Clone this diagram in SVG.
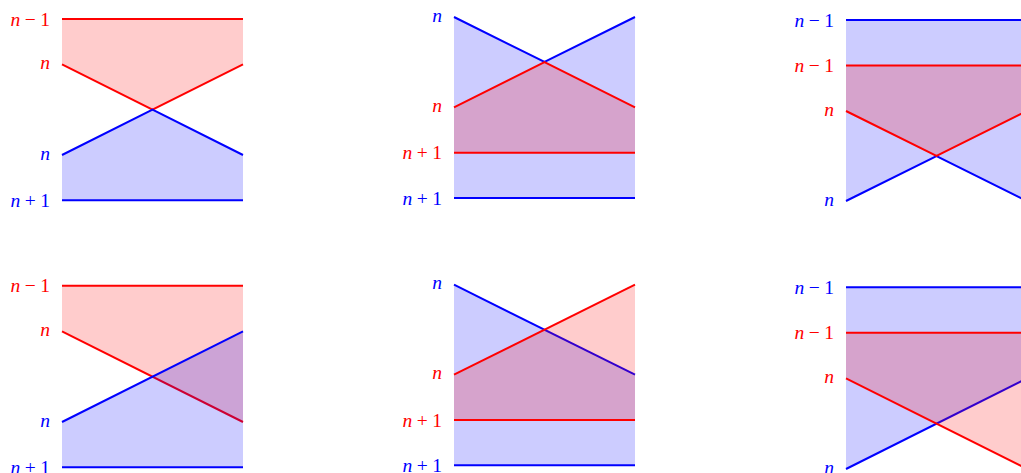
<svg xmlns="http://www.w3.org/2000/svg" width="1021" height="473" viewBox="0 0 1021 473">
<style>
.rf{fill:#ff0000;fill-opacity:0.2;stroke:none}
.bf{fill:#0000ff;fill-opacity:0.2;stroke:none}
.rl{fill:none;stroke:#ff0000;stroke-width:2}
.bl{fill:none;stroke:#0000ff;stroke-width:2}
text{font-family:"Liberation Serif","Times New Roman",serif;font-size:19.5px;text-anchor:end}
.rt{fill:#ff0000}
.bt{fill:#0000ff}
.i{font-style:italic}
</style>
<rect width="1021" height="473" fill="#ffffff"/>
<g id="panel1">
<polygon class="rf" points="62,19 243,19 243,64.3 152.5,109.7 62,64.3"/>
<polygon class="bf" points="62,155 152.5,109.7 243,155 243,200.3 62,200.3"/>
<line class="rl" x1="62" y1="19" x2="243" y2="19"/>
<polyline class="rl" points="62,64.3 152.5,109.7 243,64.3"/>
<polyline class="bl" points="62,155 152.5,109.7 243,155"/>
<line class="bl" x1="62" y1="200.3" x2="243" y2="200.3"/>
<text class="rt" x="50" y="25.5"><tspan class="i">n</tspan><tspan dx="4.5">−</tspan><tspan dx="4.5">1</tspan></text>
<text class="rt i" x="50" y="68.8">n</text>
<text class="bt i" x="50" y="159.5">n</text>
<text class="bt" x="50" y="206.8"><tspan class="i">n</tspan><tspan dx="4.5">+</tspan><tspan dx="4.5">1</tspan></text>
</g>
<g id="panel2">
<polygon class="bf" points="454,17 544.5,62 635,17 635,198 454,198"/>
<polyline class="bl" points="454,17 544.5,62 635,17"/>
<line class="bl" x1="454" y1="198" x2="635" y2="198"/>
<polygon class="rf" points="454,107.3 544.5,62 635,107.3 635,152.7 454,152.7"/>
<polyline class="rl" points="454,107.3 544.5,62 635,107.3"/>
<line class="rl" x1="454" y1="152.7" x2="635" y2="152.7"/>
<text class="bt i" x="442" y="21.5">n</text>
<text class="rt i" x="442" y="111.8">n</text>
<text class="rt" x="442" y="159.2"><tspan class="i">n</tspan><tspan dx="4.5">+</tspan><tspan dx="4.5">1</tspan></text>
<text class="bt" x="442" y="204.5"><tspan class="i">n</tspan><tspan dx="4.5">+</tspan><tspan dx="4.5">1</tspan></text>
</g>
<g id="panel3">
<polygon class="bf" points="846,20 1027,20 1027,201 936.5,156 846,201"/>
<line class="bl" x1="846" y1="20" x2="1027" y2="20"/>
<polyline class="bl" points="846,201 936.5,156 1027,201"/>
<polygon class="rf" points="846,65.5 1027,65.5 1027,111 936.5,156 846,111"/>
<line class="rl" x1="846" y1="65.5" x2="1027" y2="65.5"/>
<polyline class="rl" points="846,111 936.5,156 1027,111"/>
<text class="bt" x="834" y="26.5"><tspan class="i">n</tspan><tspan dx="4.5">−</tspan><tspan dx="4.5">1</tspan></text>
<text class="rt" x="834" y="72"><tspan class="i">n</tspan><tspan dx="4.5">−</tspan><tspan dx="4.5">1</tspan></text>
<text class="rt i" x="834" y="115.5">n</text>
<text class="bt i" x="834" y="205.5">n</text>
</g>
<g id="panel4">
<polygon class="rf" points="62,285.7 243,285.7 243,422 62,331.3"/>
<line class="rl" x1="62" y1="285.7" x2="243" y2="285.7"/>
<line class="rl" x1="62" y1="331.3" x2="243" y2="422"/>
<polygon class="bf" points="62,422 243,331.3 243,467.3 62,467.3"/>
<line class="bl" x1="62" y1="422" x2="243" y2="331.3"/>
<line class="bl" x1="62" y1="467.3" x2="243" y2="467.3"/>
<text class="rt" x="50" y="292.2"><tspan class="i">n</tspan><tspan dx="4.5">−</tspan><tspan dx="4.5">1</tspan></text>
<text class="rt i" x="50" y="335.8">n</text>
<text class="bt i" x="50" y="426.5">n</text>
<text class="bt" x="50" y="473.8"><tspan class="i">n</tspan><tspan dx="4.5">+</tspan><tspan dx="4.5">1</tspan></text>
</g>
<g id="panel5">
<polygon class="bf" points="454,284.7 635,374.7 635,465.3 454,465.3"/>
<line class="bl" x1="454" y1="284.7" x2="635" y2="374.7"/>
<line class="bl" x1="454" y1="465.3" x2="635" y2="465.3"/>
<polygon class="rf" points="454,374.7 635,284.7 635,420 454,420"/>
<line class="rl" x1="454" y1="374.7" x2="635" y2="284.7"/>
<line class="rl" x1="454" y1="420" x2="635" y2="420"/>
<text class="bt i" x="442" y="289.2">n</text>
<text class="rt i" x="442" y="379.2">n</text>
<text class="rt" x="442" y="426.5"><tspan class="i">n</tspan><tspan dx="4.5">+</tspan><tspan dx="4.5">1</tspan></text>
<text class="bt" x="442" y="471.8"><tspan class="i">n</tspan><tspan dx="4.5">+</tspan><tspan dx="4.5">1</tspan></text>
</g>
<g id="panel6">
<polygon class="bf" points="846,287.3 1027,287.3 1027,378.3 846,469"/>
<line class="bl" x1="846" y1="287.3" x2="1027" y2="287.3"/>
<line class="bl" x1="846" y1="469" x2="1027" y2="378.3"/>
<polygon class="rf" points="846,332.7 1027,332.7 1027,469 846,378.3"/>
<line class="rl" x1="846" y1="332.7" x2="1027" y2="332.7"/>
<line class="rl" x1="846" y1="378.3" x2="1027" y2="469"/>
<text class="bt" x="834" y="293.8"><tspan class="i">n</tspan><tspan dx="4.5">−</tspan><tspan dx="4.5">1</tspan></text>
<text class="rt" x="834" y="339.2"><tspan class="i">n</tspan><tspan dx="4.5">−</tspan><tspan dx="4.5">1</tspan></text>
<text class="rt i" x="834" y="382.8">n</text>
<text class="bt i" x="834" y="473.5">n</text>
</g>
<g id="connectors"></g>
</svg>
